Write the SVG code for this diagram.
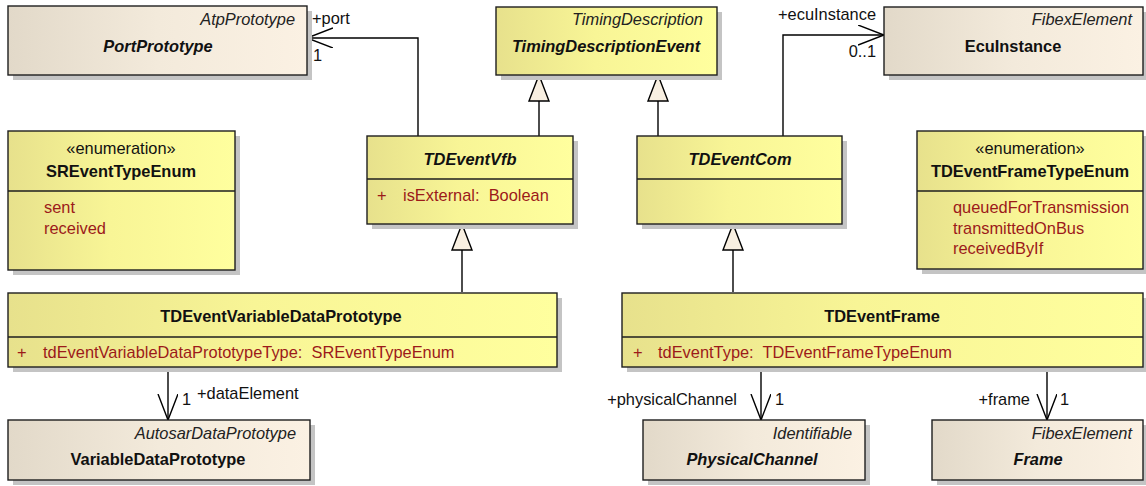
<svg xmlns="http://www.w3.org/2000/svg" width="1146" height="486" viewBox="0 0 1146 486">
<defs>
<linearGradient id="gy" x1="0" y1="0" x2="1" y2="0">
<stop offset="0" stop-color="#e7e18c"/><stop offset="0.45" stop-color="#f8f596"/><stop offset="1" stop-color="#ffff9e"/>
</linearGradient>
<linearGradient id="gb" x1="0" y1="0" x2="1" y2="0">
<stop offset="0" stop-color="#e2d9c9"/><stop offset="0.5" stop-color="#f3eadb"/><stop offset="1" stop-color="#fbf1e3"/>
</linearGradient>
<marker id="open" markerWidth="30" markerHeight="24" refX="26" refY="10" orient="auto" markerUnits="userSpaceOnUse">
<path d="M0,0 L26,10 L0,20" fill="none" stroke="#000" stroke-width="1.4"/>
</marker>
</defs>
<style>
.sh{fill:#c4c4c4}
.y{fill:url(#gy);stroke:#1e1e1e;stroke-width:1.4}
.b{fill:url(#gb);stroke:#1e1e1e;stroke-width:1.4}
.dv{stroke:#1e1e1e;stroke-width:1.4}
text{font-family:"Liberation Sans",Arial,sans-serif;font-size:16.4px;fill:#111}
.st{font-style:italic;text-anchor:end;fill:#222}
.nm{font-weight:bold;text-anchor:middle}
.ni{font-weight:bold;font-style:italic;text-anchor:middle}
.en{text-anchor:middle}
.at{fill:#9c1a1a}
.lb{fill:#111}
.c{fill:none;stroke:#000;stroke-width:1.4}
.tri{fill:#f8efe1;stroke:#000;stroke-width:1.4}
</style>

<g id="connectors">
<path class="c" d="M418,136 V38 H307" marker-end="url(#open)"/>
<path class="c" d="M783,136 V35 H884" marker-end="url(#open)"/>
<path class="c" d="M539,136 V101"/>
<path class="c" d="M658,136 V101"/>
<path class="tri" d="M539,75 L549,101 L529,101 Z"/>
<path class="tri" d="M658,75 L668,101 L648,101 Z"/>
<path class="c" d="M462,292 V250"/>
<path class="c" d="M733,292 V250"/>
<path class="tri" d="M462,224 L472,250 L452,250 Z"/>
<path class="tri" d="M733,224 L743,250 L723,250 Z"/>
<path class="c" d="M168,367 V420" marker-end="url(#open)"/>
<path class="c" d="M761,367 V420" marker-end="url(#open)"/>
<path class="c" d="M1047,367 V420" marker-end="url(#open)"/>
<text class="lb" x="312" y="24">+port</text>
<text class="lb" x="313" y="61">1</text>
<text class="lb" x="876" y="20" text-anchor="end">+ecuInstance</text>
<text class="lb" x="876" y="57" text-anchor="end">0..1</text>
<text class="lb" x="182" y="405">1</text>
<text class="lb" x="197" y="399">+dataElement</text>
<text class="lb" x="737" y="405" text-anchor="end">+physicalChannel</text>
<text class="lb" x="775" y="405">1</text>
<text class="lb" x="1030" y="405" text-anchor="end">+frame</text>
<text class="lb" x="1060" y="405">1</text>
</g>

<g id="PortPrototype">
<rect class="sh" x="13" y="11" width="299" height="69"/>
<rect class="b" x="8" y="6" width="299" height="69"/>
<text class="st" x="295" y="25">AtpPrototype</text>
<text class="ni" x="158" y="52">PortPrototype</text>
</g>

<g id="TimingDescriptionEvent">
<rect class="sh" x="501" y="12" width="221" height="68"/>
<rect class="y" x="496" y="7" width="221" height="68"/>
<text class="st" x="703" y="25">TimingDescription</text>
<text class="ni" x="606" y="52">TimingDescriptionEvent</text>
</g>

<g id="EcuInstance">
<rect class="sh" x="889" y="12" width="259" height="68"/>
<rect class="b" x="884" y="7" width="259" height="68"/>
<text class="st" x="1132" y="25">FibexElement</text>
<text class="nm" x="1013" y="52">EcuInstance</text>
</g>

<g id="SREventTypeEnum">
<rect class="sh" x="13" y="136" width="227" height="139"/>
<rect class="y" x="8" y="131" width="227" height="139"/>
<line class="dv" x1="8" y1="191" x2="235" y2="191"/>
<text class="en" x="121" y="154">«enumeration»</text>
<text class="nm" x="121" y="177">SREventTypeEnum</text>
<text class="at" x="44" y="213">sent</text>
<text class="at" x="44" y="234">received</text>
</g>

<g id="TDEventVfb">
<rect class="sh" x="372" y="141" width="206" height="88"/>
<rect class="y" x="367" y="136" width="206" height="88"/>
<line class="dv" x1="367" y1="179" x2="573" y2="179"/>
<text class="ni" x="470" y="165">TDEventVfb</text>
<text class="at" x="377" y="201">+</text>
<text class="at" x="403" y="201" xml:space="preserve">isExternal:  Boolean</text>
</g>

<g id="TDEventCom">
<rect class="sh" x="642" y="141" width="205" height="88"/>
<rect class="y" x="637" y="136" width="205" height="88"/>
<line class="dv" x1="637" y1="179" x2="842" y2="179"/>
<text class="ni" x="740" y="165">TDEventCom</text>
</g>

<g id="TDEventFrameTypeEnum">
<rect class="sh" x="922" y="136" width="227" height="138"/>
<rect class="y" x="917" y="131" width="226" height="138"/>
<line class="dv" x1="917" y1="191" x2="1143" y2="191"/>
<text class="en" x="1030" y="154">«enumeration»</text>
<text class="nm" x="1030" y="177">TDEventFrameTypeEnum</text>
<text class="at" x="953" y="213">queuedForTransmission</text>
<text class="at" x="953" y="234">transmittedOnBus</text>
<text class="at" x="953" y="254">receivedByIf</text>
</g>

<g id="TDEventVariableDataPrototype">
<rect class="sh" x="13" y="298" width="549" height="74"/>
<rect class="y" x="8" y="293" width="549" height="74"/>
<line class="dv" x1="8" y1="337" x2="557" y2="337"/>
<text class="nm" x="281" y="322">TDEventVariableDataPrototype</text>
<text class="at" x="17" y="358">+</text>
<text class="at" x="43" y="358" xml:space="preserve">tdEventVariableDataPrototypeType:  SREventTypeEnum</text>
</g>

<g id="TDEventFrame">
<rect class="sh" x="627" y="298" width="521" height="74"/>
<rect class="y" x="622" y="293" width="521" height="74"/>
<line class="dv" x1="622" y1="337" x2="1143" y2="337"/>
<text class="nm" x="882" y="322">TDEventFrame</text>
<text class="at" x="633" y="358">+</text>
<text class="at" x="658" y="358" xml:space="preserve">tdEventType:  TDEventFrameTypeEnum</text>
</g>

<g id="VariableDataPrototype">
<rect class="sh" x="13" y="425" width="302" height="60"/>
<rect class="b" x="8" y="420" width="302" height="60"/>
<text class="st" x="296" y="439">AutosarDataPrototype</text>
<text class="nm" x="158" y="465">VariableDataPrototype</text>
</g>

<g id="PhysicalChannel">
<rect class="sh" x="648" y="425" width="222" height="60"/>
<rect class="b" x="643" y="420" width="222" height="60"/>
<text class="st" x="852" y="439">Identifiable</text>
<text class="ni" x="752" y="465">PhysicalChannel</text>
</g>

<g id="Frame">
<rect class="sh" x="937" y="425" width="211" height="60"/>
<rect class="b" x="932" y="420" width="211" height="60"/>
<text class="st" x="1132" y="439">FibexElement</text>
<text class="ni" x="1038" y="465">Frame</text>
</g>
</svg>
